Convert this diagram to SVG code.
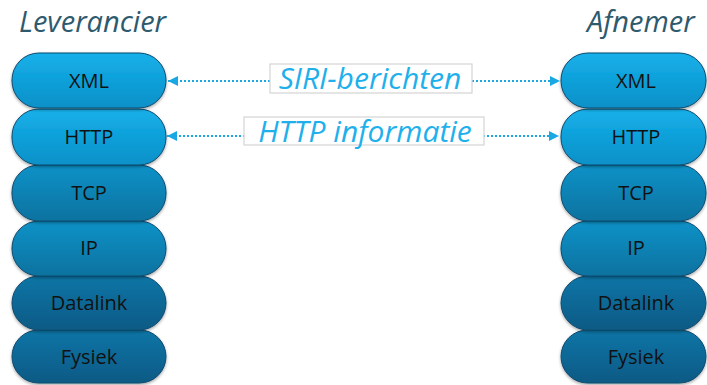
<svg xmlns="http://www.w3.org/2000/svg" width="707" height="385" viewBox="0 0 707 385">
<defs>
<linearGradient id="gA" x1="0" y1="0" x2="0" y2="1"><stop offset="0" stop-color="#17b0ea"/><stop offset="1" stop-color="#0790c8"/></linearGradient>
<linearGradient id="gB" x1="0" y1="0" x2="0" y2="1"><stop offset="0" stop-color="#0c92c8"/><stop offset="1" stop-color="#07729f"/></linearGradient>
<linearGradient id="gC" x1="0" y1="0" x2="0" y2="1"><stop offset="0" stop-color="#0a75a6"/><stop offset="1" stop-color="#075a85"/></linearGradient>
<filter id="sh" x="-10%" y="-10%" width="120%" height="130%"><feDropShadow dx="0" dy="1.5" stdDeviation="1.5" flood-color="#000" flood-opacity="0.35"/></filter>
<marker id="ah" viewBox="0 0 10 10" refX="10" refY="5" markerWidth="10" markerHeight="10" markerUnits="userSpaceOnUse" orient="auto-start-reverse"><path d="M0,0 L10,5 L0,10 Z" fill="#1aa8e2"/></marker>
</defs>
<style>
.pill{stroke:#0b4a6e;stroke-width:1;filter:url(#sh)}
.a{fill:url(#gA)} .b{fill:url(#gB)} .c{fill:url(#gC)}
.lt{font-family:"Open Sans","Liberation Sans",sans-serif;font-size:20px;font-weight:500;fill:#111;text-anchor:middle}
.title{font-family:"Open Sans","Liberation Sans",sans-serif;font-style:italic;font-size:29px;fill:#2e5a6e}
.lbl{font-family:"Open Sans","Liberation Sans",sans-serif;font-style:italic;font-size:30px;fill:#1fb0ec;text-anchor:middle}
.box{fill:#fff;stroke:#d4d4d4;stroke-width:1.2}
.con{stroke:#1aa8e2;stroke-width:2;stroke-dasharray:2 2;fill:none}
</style>
<text class="title" x="19" y="32">Leverancier</text>
<text class="title" x="587" y="32">Afnemer</text>
<g id="left-stack">
<g id="l-fysiek"><rect class="pill c" x="12" y="330" width="154" height="53" rx="26.5"/><text class="lt" x="89" y="364">Fysiek</text></g>
<g id="l-datalink"><rect class="pill c" x="12" y="276" width="154" height="54" rx="27"/><text class="lt" x="89" y="310">Datalink</text></g>
<g id="l-ip"><rect class="pill b" x="12" y="221" width="154" height="55" rx="27"/><text class="lt" x="89" y="255">IP</text></g>
<g id="l-tcp"><rect class="pill b" x="12" y="165" width="154" height="56" rx="27"/><text class="lt" x="89" y="200">TCP</text></g>
<g id="l-http"><rect class="pill a" x="12" y="109" width="154" height="56" rx="27"/><text class="lt" x="89" y="144">HTTP</text></g>
<g id="l-xml"><rect class="pill a" x="12" y="53" width="154" height="55" rx="27"/><text class="lt" x="89" y="88">XML</text></g>
</g>
<g id="right-stack">
<g id="r-fysiek"><rect class="pill c" x="561" y="330" width="145" height="53" rx="26.5"/><text class="lt" x="636" y="364">Fysiek</text></g>
<g id="r-datalink"><rect class="pill c" x="561" y="276" width="145" height="54" rx="27"/><text class="lt" x="636" y="310">Datalink</text></g>
<g id="r-ip"><rect class="pill b" x="561" y="221" width="145" height="55" rx="27"/><text class="lt" x="636" y="255">IP</text></g>
<g id="r-tcp"><rect class="pill b" x="561" y="165" width="145" height="56" rx="27"/><text class="lt" x="636" y="200">TCP</text></g>
<g id="r-http"><rect class="pill a" x="561" y="109" width="145" height="56" rx="27"/><text class="lt" x="636" y="144">HTTP</text></g>
<g id="r-xml"><rect class="pill a" x="561" y="53" width="145" height="55" rx="27"/><text class="lt" x="636" y="88">XML</text></g>
</g>
<g id="connectors">
<line class="con" x1="168" y1="81" x2="560" y2="81" marker-start="url(#ah)" marker-end="url(#ah)"/>
<line class="con" x1="167" y1="136" x2="559" y2="136" marker-start="url(#ah)" marker-end="url(#ah)"/>
<g id="siri-label"><rect class="box" x="270" y="64" width="202" height="29"/><text class="lbl" x="370" y="89">SIRI-berichten</text></g>
<g id="http-label"><rect class="box" x="244" y="117" width="240" height="28"/><text class="lbl" x="365" y="142">HTTP informatie</text></g>
</g>
</svg>
